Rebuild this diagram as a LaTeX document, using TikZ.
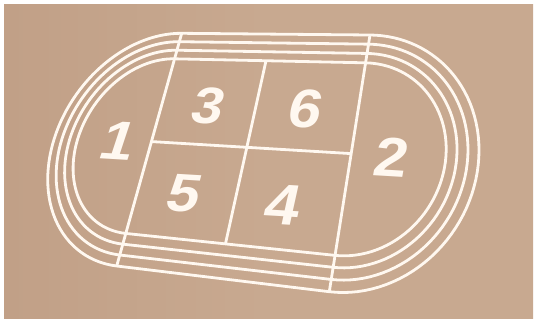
\documentclass[tikz,border=0pt]{standalone}
\usepackage{fontspec}
\setmainfont{Liberation Sans}
\pgfmathdeclarefunction{hx}{2}{\pgfmathparse{(158.511*(#1)-80.137*(#2)+181.7)/(1-0.08051*(#1)-0.12971*(#2))}}
\pgfmathdeclarefunction{hy}{2}{\pgfmathparse{(-1.118*(#1)+198.197*(#2)+33.3)/(1-0.08051*(#1)-0.12971*(#2))}}
\definecolor{bg}{HTML}{C8A990}
\definecolor{bgdark}{HTML}{C1A087}
\definecolor{ln}{HTML}{FFF8F0}
\tikzset{
  trackline/.style={draw=ln, line width=2.8pt, line join=round},
  digitstyle/.style={text=ln, inner sep=0pt, transform shape},
}
\newcommand\putdigit[6]{%
  \begin{scope}[shift={(#2,#3)}]
    \node[digitstyle, cm={1.1,-0.066,#4,1,(0,0)}, font=\fontsize{#5}{#5}\selectfont\bfseries] (#1) at (0,0) {#6};
  \end{scope}}
\def\kk{0.905}
\begin{document}
\begin{tikzpicture}[x=1pt,y=-1pt]
  \useasboundingbox (0,0) rectangle (537,321);
  \fill[white] (0,0) rectangle (537,321);
  \shade[left color=bgdark, right color=bg, middle color=bg] (4,5) rectangle (533,318);
  % lanes
  \foreach \rr in {0.5,0.4587,0.4173,0.376}{
    \draw[trackline] plot[domain=0:180,samples=60,variable=\p]
      ({hx(-\rr*sin(\p)/\kk,0.5-\rr*cos(\p))},{hy(-\rr*sin(\p)/\kk,0.5-\rr*cos(\p))})
      -- plot[domain=0:180,samples=60,variable=\p]
      ({hx(1+\rr*sin(\p)/\kk,0.5+\rr*cos(\p))},{hy(1+\rr*sin(\p)/\kk,0.5+\rr*cos(\p))})
      -- cycle;
  }
  % finish lines and grid
  \coordinate (LT) at ({hx(0,0)},{hy(0,0)});
  \coordinate (LB) at ({hx(0,1)},{hy(0,1)});
  \coordinate (RT) at ({hx(1,0)},{hy(1,0)});
  \coordinate (RB) at ({hx(1,1)},{hy(1,1)});
  \coordinate (ML) at ({hx(0,0.5)},{hy(0,0.5)});
  \coordinate (MR) at ({hx(1,0.5)},{hy(1,0.5)});
  \coordinate (MT) at ({hx(0.5,0.124)},{hy(0.5,0.124)});
  \coordinate (MB) at ({hx(0.5,0.876)},{hy(0.5,0.876)});
  \draw[trackline] (LT) -- (LB);
  \draw[trackline] (RT) -- (RB);
  \draw[trackline] (ML) -- (MR);
  \draw[trackline] (MT) -- (MB);
  % numbers
  \putdigit{n1}{119}{141}{0.33}{54}{1}
  \putdigit{n3}{209}{105.5}{0.27}{51}{3}
  \putdigit{n6}{306.5}{109}{0.22}{54}{6}
  \putdigit{n5}{185}{193}{0.27}{53}{5}
  \putdigit{n4}{283}{205}{0.22}{57}{4}
  \putdigit{n2}{391.5}{157.5}{0.18}{55}{2}
\end{tikzpicture}
\end{document}
